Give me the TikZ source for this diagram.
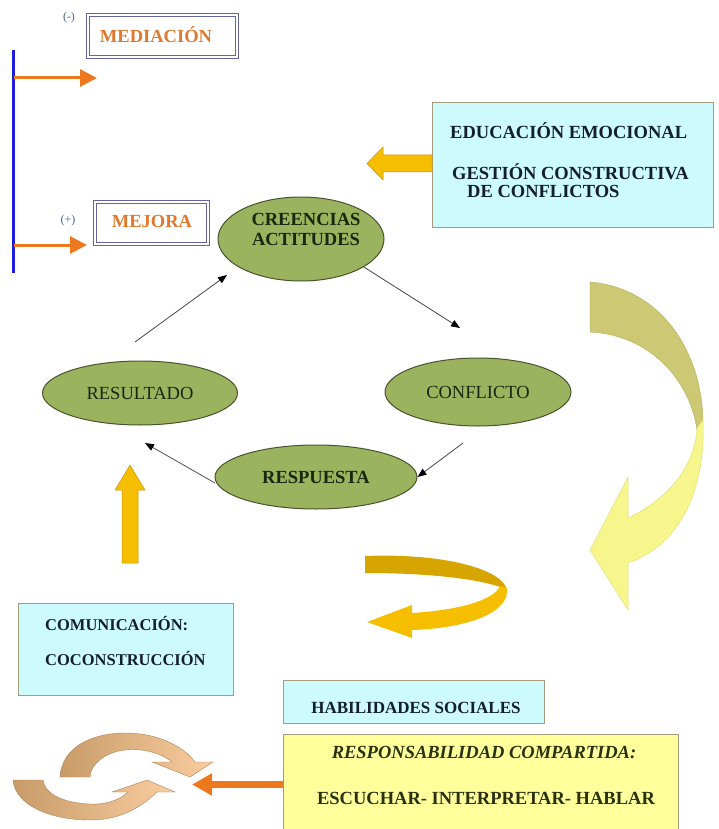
\documentclass[tikz,border=0pt]{standalone}
\usepackage{fontspec}
\setmainfont{Liberation Serif}
\usetikzlibrary{arrows.meta,shapes.geometric}
\definecolor{ellfill}{RGB}{155,178,95}
\definecolor{elldraw}{RGB}{70,85,45}
\definecolor{elltext}{RGB}{25,40,15}
\definecolor{cyanfill}{RGB}{205,250,252}
\definecolor{boxdraw}{RGB}{165,155,125}
\definecolor{yelfill}{RGB}{255,255,155}
\definecolor{goldA}{RGB}{245,190,0}
\definecolor{goldB}{RGB}{215,165,0}
\definecolor{goldE}{RGB}{200,150,0}
\definecolor{orangeA}{RGB}{238,120,30}
\definecolor{medtext}{RGB}{225,120,45}
\definecolor{tanA}{RGB}{205,200,115}
\definecolor{tanE}{RGB}{185,180,100}
\definecolor{lightyel}{RGB}{246,246,140}
\definecolor{lightyelE}{RGB}{225,225,120}
\definecolor{navytext}{RGB}{20,30,45}
\definecolor{olivetext}{RGB}{40,50,15}
\definecolor{frame}{RGB}{100,100,160}
\definecolor{signc}{RGB}{70,100,150}
\definecolor{peachL}{RGB}{250,205,160}
\definecolor{peachD}{RGB}{200,155,105}
\definecolor{peachE}{RGB}{175,130,90}
\definecolor{blueline}{RGB}{30,30,225}
\definecolor{connc}{RGB}{70,70,70}
\begin{document}
\begin{tikzpicture}[x=1pt,y=-1pt,
  bfont/.style={font=\bfseries\fontsize{18.5}{20}\selectfont},
  rfont/.style={font=\fontsize{18.5}{20}\selectfont},
  ell/.style={ellipse, draw=elldraw, line width=1pt, fill=ellfill, inner sep=0pt, text=elltext},
  lbl/.style={inner sep=0pt, text height=12pt, text depth=0pt},
  dbox/.style={draw=frame, double=white, double distance=1.4pt, line width=1.2pt, fill=white, inner sep=0pt},
  cbox/.style={draw=boxdraw, line width=0.8pt, fill=cyanfill, inner sep=0pt},
  ybox/.style={draw=boxdraw, line width=0.8pt, fill=yelfill, inner sep=0pt},
  conn/.style={draw=connc, line width=0.8pt, -{Triangle[length=9pt,width=7pt,color=black]}},
  orarrow/.style={draw=orangeA, line width=3pt, -{Triangle[length=17pt,width=17pt]}},
  sign/.style={inner sep=0pt, text=signc, font=\fontsize{12}{14}\selectfont}
]
\useasboundingbox (0,0) rectangle (719,829);

% blue line and orange arrows
\coordinate (bl1) at (13,50);
\coordinate (bl2) at (13,273);
\draw[blueline, line width=3pt] (bl1) -- (bl2);
\coordinate (o1s) at (14,78);
\coordinate (o1e) at (97,78);
\coordinate (o2s) at (14,245);
\coordinate (o2e) at (87,245);
\draw[orarrow] (o1s) -- (o1e);
\draw[orarrow] (o2s) -- (o2e);

% signs and framed labels
\node[sign] (minus) at (69,18) {(-)};
\node[sign] (plus) at (68,221) {(+)};
\node[dbox, minimum width=149pt, minimum height=42pt] (med) at (162.5,36) {};
\node[lbl, bfont, text=medtext] (medT) at (156,37) {MEDIACIÓN};
\node[dbox, minimum width=113pt, minimum height=42pt] (mej) at (151.5,223) {};
\node[lbl, bfont, text=medtext] (mejT) at (152,221) {MEJORA};

% education box
\node[cbox, minimum width=281pt, minimum height=125pt] (edu) at (572.5,164.5) {};
\node[lbl, bfont, text=navytext, anchor=west] (edu1) at (450,133) {EDUCACIÓN EMOCIONAL};
\node[lbl, bfont, text=navytext, anchor=west] (edu2) at (452,173) {GESTIÓN CONSTRUCTIVA};
\node[lbl, bfont, text=navytext, anchor=west] (edu3) at (467,191) {DE CONFLICTOS};

% left gold arrow
\fill[goldA, draw=goldE, line width=0.5pt] (432,155) -- (383,155) -- (383,147) -- (367,163.5) -- (383,180) -- (383,172) -- (432,172) -- cycle;

% ellipses
\node[ell, minimum width=166pt, minimum height=84pt] (cre) at (301,239) {};
\node[inner sep=0pt, bfont, text=elltext, align=center] (creT) at (306,229) {CREENCIAS\\ACTITUDES};
\node[ell, rfont, minimum width=186pt, minimum height=68pt] (con) at (478,392) {CONFLICTO};
\node[ell, rfont, minimum width=195pt, minimum height=64pt] (res) at (140,393) {RESULTADO};
\node[ell, bfont, minimum width=202pt, minimum height=64pt] (resp) at (316,477) {RESPUESTA};

% cycle connectors
\coordinate (a1e) at (460,328);
\coordinate (a2s) at (463,443);
\coordinate (a3s) at (215,483);
\coordinate (a3e) at (145,443);
\coordinate (a4s) at (135,342);
\coordinate (a4e) at (227,275);
\draw[conn] (cre.-24) -- (a1e);
\draw[conn] (a2s) -- (resp.east);
\draw[conn] (a3s) -- (a3e);
\draw[conn] (a4s) -- (a4e);

% vertical gold arrow
\fill[goldA, draw=goldE, line width=0.5pt] (122,563) -- (122,490) -- (115,490) -- (130,465) -- (145,490) -- (138,490) -- (138,563) -- cycle;

% big curved ribbon arrow
\fill[tanA, draw=tanE, line width=0.5pt] (590,282) .. controls (660,288) and (702,350) .. (703,422)
  -- (697,430) .. controls (690,380) and (650,335) .. (590,332) -- cycle;
\fill[lightyel, draw=lightyelE, line width=0.5pt] (697,428) -- (703,420) .. controls (706,490) and (680,545) .. (628,563)
  -- (628,610) -- (590,550) -- (628,477) -- (628,518) .. controls (670,498) and (695,465) .. (697,428) -- cycle;

% small gold curled arrow
\fill[goldB] (365,556) .. controls (440,553) and (502,568) .. (507,590)
  .. controls (490,581) and (440,573) .. (365,573) -- cycle;
\fill[goldA] (507,588) .. controls (510,612) and (470,628) .. (412,630) -- (412,638) -- (367,622)
  -- (412,605) -- (412,613) .. controls (460,610) and (494,600) .. (500,586) -- cycle;

% communication box
\node[cbox, minimum width=215pt, minimum height=92pt] (com) at (125.5,649) {};
\node[lbl, text=navytext, anchor=west, font=\bfseries\fontsize{16.5}{18}\selectfont] (com1) at (45,624) {COMUNICACIÓN:};
\node[lbl, text=navytext, anchor=west, font=\bfseries\fontsize{16.5}{18}\selectfont] (com2) at (45,659) {COCONSTRUCCIÓN};

% social skills box
\node[cbox, minimum width=261pt, minimum height=43pt] (hab) at (413.5,701.5) {};
\node[lbl, text=navytext, font=\bfseries\fontsize{17}{19}\selectfont] (habT) at (416,707) {HABILIDADES SOCIALES};

% shared responsibility box
\node[ybox, minimum width=395pt, minimum height=101pt] (yel) at (480.5,784.5) {};
\node[lbl, bfont, text=olivetext, font=\bfseries\itshape\fontsize{18.5}{20}\selectfont] (yel1) at (484,752) {RESPONSABILIDAD COMPARTIDA:};
\node[lbl, bfont, text=olivetext] (yel2) at (486,798) {ESCUCHAR- INTERPRETAR- HABLAR};

% orange arrow to cycle icon
\coordinate (oe) at (192,784.5);
\draw[draw=orangeA, line width=7pt, -{Triangle[length=20pt,width=21pt]}] (yel.west) -- (oe);

% cycle icon
\shade[left color=peachD, right color=peachL, draw=peachE, line width=0.4pt]
  (60,777) .. controls (62,745) and (95,733) .. (125,733) .. controls (160,733) and (185,748) .. (195,762)
  -- (213,762) -- (190,777) -- (152,762) -- (172,762)
  .. controls (160,752) and (140,748) .. (125,750) .. controls (105,752) and (90,765) .. (90,777) -- cycle;
\shade[left color=peachD, right color=peachL, draw=peachE, line width=0.4pt]
  (13,780) .. controls (15,805) and (50,820) .. (90,820) .. controls (120,820) and (140,808) .. (157,792)
  -- (175,792) -- (147,780) -- (112,792) -- (128,792)
  .. controls (120,800) and (105,805) .. (90,804) .. controls (65,803) and (45,795) .. (43,780) -- cycle;
\end{tikzpicture}
\end{document}
